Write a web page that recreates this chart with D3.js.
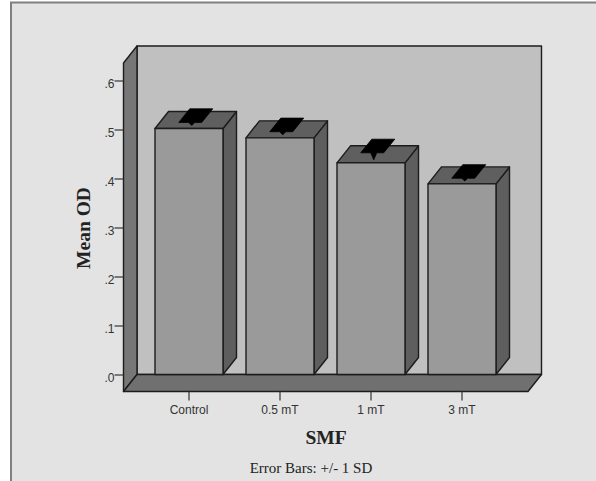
<!DOCTYPE html>
<html>
<head>
<meta charset="utf-8">
<script src="https://cdn.jsdelivr.net/npm/d3@7"></script>
<style>
  html, body { margin: 0; padding: 0; background: #fff; }
  svg { display: block; }
</style>
</head>
<body>
<div id="chart"></div>
<script>
const categories = ['Control', '0.5 mT', '1 mT', '3 mT']
const meanOD = [0.502, 0.483, 0.432, 0.389]
const sdOD = [0.009, 0.009, 0.017, 0.008]
const yTicks = [0, 0.1, 0.2, 0.3, 0.4, 0.5, 0.6]

const width = 596
const height = 481
const depthX = 13.5 // 3d offset of the box
const depthY = 17

const svg = d3.select('#chart').append('svg')
  .attr('width', width)
  .attr('height', height)

// chart background, frame runs off the right and bottom of the window
svg.append('rect')
  .attr('x', 11)
  .attr('y', 2.5)
  .attr('width', width + 10)
  .attr('height', height + 10)
  .attr('fill', '#e3e3e3')
  .attr('stroke', '#808080')
  .attr('stroke-width', 2)

const x = d3.scaleBand()
  .domain(categories)
  .range([155, 496])
  .paddingInner(0.2527)
  .paddingOuter(0)

const y = d3.scaleLinear()
  .domain([0, 0.6])
  .range([374.5, 80.5])

const boxLeft = 123.5
const boxRight = 528
const boxTop = 63
const boxBottom = y(0)
const ink = '#1c1c1c'

const poly = (pts, fill) => svg.append('polygon')
  .attr('points', pts.map((p) => p.join(',')).join(' '))
  .attr('fill', fill)
  .attr('stroke', ink)
  .attr('stroke-width', 1.4)
  .attr('stroke-linejoin', 'round')

// back wall
poly([[boxLeft + depthX, boxTop - depthY], [boxRight + depthX, boxTop - depthY], [boxRight + depthX, boxBottom], [boxLeft + depthX, boxBottom]], '#c0c0c0')
// left wall
poly([[boxLeft, boxTop], [boxLeft + depthX, boxTop - depthY], [boxLeft + depthX, boxBottom], [boxLeft, boxBottom + depthY]], '#777777')
// floor
poly([[boxLeft, boxBottom + depthY], [boxLeft + depthX, boxBottom], [boxRight + depthX, boxBottom], [boxRight, boxBottom + depthY]], '#707070')

// bars
categories.forEach((c, i) => {
  const x0 = x(c)
  const x1 = x0 + x.bandwidth()
  const yt = y(meanOD[i])
  poly([[x1, yt], [x1 + depthX, yt - depthY], [x1 + depthX, boxBottom - depthY], [x1, boxBottom]], '#5e5e5e')
  poly([[x0, yt], [x0 + depthX, yt - depthY], [x1 + depthX, yt - depthY], [x1, yt]], '#5f5f5f')
  poly([[x0, yt], [x1, yt], [x1, boxBottom], [x0, boxBottom]], '#9a9a9a')

  // error bar cap, seen from above, with the whisker tip poking out in front
  const cx = x0 + x.bandwidth() / 2 + depthX / 2
  const cy = y(meanOD[i] + sdOD[i]) - depthY / 2
  const capW = 11.5
  const capX = 5.5
  const capY = 6.8
  svg.append('polygon')
    .attr('points', [
      [cx - capW - capX, cy + capY], [cx - capW + capX, cy - capY],
      [cx + capW + capX, cy - capY], [cx + capW - capX, cy + capY],
      [cx - 1, cy + capY], [cx - 4, yt - 3], [cx - 7, cy + capY]
    ].map((p) => p.join(',')).join(' '))
    .attr('fill', '#000')
    .attr('stroke', '#000')
    .attr('stroke-width', 0.8)
    .attr('stroke-linejoin', 'round')
})

// axes
const yAxis = svg.append('g')
  .attr('transform', `translate(${boxLeft},0)`)
  .call(d3.axisLeft(y).tickValues(yTicks).tickSize(9).tickPadding(0).tickFormat((d) => '.' + Math.round(d * 10)))

const xAxis = svg.append('g')
  .attr('transform', `translate(0,${boxBottom + depthY})`)
  .call(d3.axisBottom(x).tickSize(9).tickPadding(5))

xAxis.select('.domain').remove()
yAxis.select('.domain').remove()

svg.selectAll('.tick line').attr('stroke', '#333').attr('stroke-width', 1.2)
svg.selectAll('.tick text')
  .attr('fill', '#333')
  .style('font-family', '"Liberation Sans", Arial, sans-serif')
  .style('font-size', '12px')
yAxis.selectAll('.tick text').attr('dy', '0.55em')

// titles
svg.append('text')
  .attr('transform', 'translate(90,228) rotate(-90)')
  .attr('text-anchor', 'middle')
  .attr('font-family', '"Liberation Serif", serif')
  .attr('font-weight', 'bold')
  .attr('font-size', 19.5)
  .attr('fill', '#222')
  .text('Mean OD')

svg.append('text')
  .attr('x', 326)
  .attr('y', 444)
  .attr('text-anchor', 'middle')
  .attr('font-family', '"Liberation Serif", serif')
  .attr('font-weight', 'bold')
  .attr('font-size', 19.5)
  .attr('fill', '#222')
  .text('SMF')

svg.append('text')
  .attr('x', 311)
  .attr('y', 473)
  .attr('text-anchor', 'middle')
  .attr('font-family', '"Liberation Serif", serif')
  .attr('font-size', 15)
  .attr('fill', '#222')
  .text('Error Bars: +/- 1 SD')
</script>
</body>
</html>
